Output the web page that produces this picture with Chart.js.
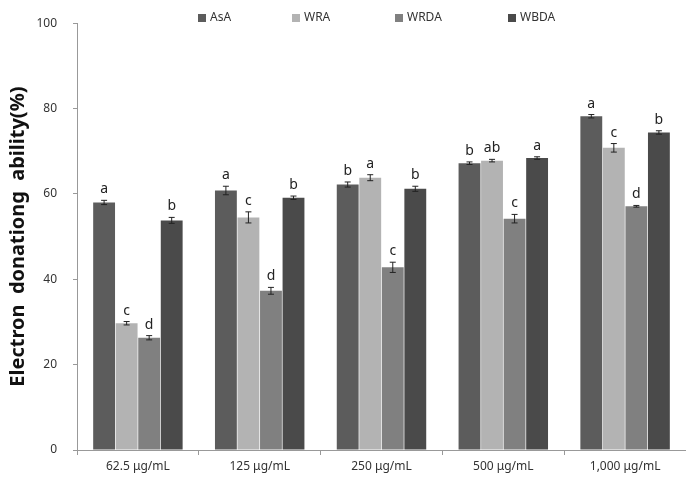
<!DOCTYPE html>
<html>
<head>
<meta charset="utf-8">
<script src="https://cdn.jsdelivr.net/npm/chart.js@4"></script>
<style>
  html, body { margin: 0; padding: 0; background: #fff; }
  #wrap { width: 686px; height: 478px; position: relative; }
</style>
</head>
<body>
<div id="wrap"><canvas id="edaChart" width="686" height="478"></canvas></div>
<script>
/* Electron donating ability bar chart */
const categories = ['62.5 \u03bcg/mL', '125 \u03bcg/mL', '250 \u03bcg/mL', '500 \u03bcg/mL', '1,000 \u03bcg/mL'];
const seriesNames = ['AsA', 'WRA', 'WRDA', 'WBDA'];
const seriesColors = ['#5c5c5c', '#b3b3b3', '#808080', '#4a4a4a'];

const asaValues  = [58.0, 60.8, 62.2, 67.2, 78.2];
const wraValues  = [29.7, 54.5, 63.8, 67.8, 70.8];
const wrdaValues = [26.3, 37.3, 42.8, 54.2, 57.1];
const wbdaValues = [53.8, 59.1, 61.2, 68.4, 74.4];

const asaErr  = [0.5, 1.0, 0.6, 0.3, 0.4];
const wraErr  = [0.4, 1.3, 0.7, 0.3, 1.0];
const wrdaErr = [0.5, 0.8, 1.2, 1.0, 0.2];
const wbdaErr = [0.7, 0.4, 0.6, 0.3, 0.4];

const asaLetters  = ['a', 'a', 'b', 'b', 'a'];
const wraLetters  = ['c', 'c', 'a', 'ab', 'c'];
const wrdaLetters = ['d', 'd', 'c', 'c', 'd'];
const wbdaLetters = ['b', 'b', 'b', 'a', 'b'];

const yTicks = [0, 20, 40, 60, 80, 100];

const values = [asaValues, wraValues, wrdaValues, wbdaValues];
const errors = [asaErr, wraErr, wrdaErr, wbdaErr];
const letters = [asaLetters, wraLetters, wrdaLetters, wbdaLetters];

const FONT = "'Noto Sans', 'DejaVu Sans', sans-serif";

// error bars + significance letters
const annotate = {
  id: 'annotate',
  afterDatasetsDraw(chart) {
    const ctx = chart.ctx;
    const y = chart.scales.y;
    ctx.save();
    chart.data.datasets.forEach((ds, di) => {
      const meta = chart.getDatasetMeta(di);
      meta.data.forEach((bar, i) => {
        const v = ds.data[i], e = errors[di][i];
        const top = y.getPixelForValue(v + e);
        const bot = y.getPixelForValue(v - e);
        ctx.strokeStyle = '#222';
        ctx.lineWidth = 1;
        ctx.beginPath();
        ctx.moveTo(bar.x, top); ctx.lineTo(bar.x, bot);
        ctx.moveTo(bar.x - 3, top); ctx.lineTo(bar.x + 3, top);
        ctx.moveTo(bar.x - 3, bot); ctx.lineTo(bar.x + 3, bot);
        ctx.stroke();
        ctx.fillStyle = '#222';
        ctx.font = '14px ' + FONT;
        ctx.textAlign = 'center';
        ctx.textBaseline = 'bottom';
        ctx.fillText(letters[di][i], bar.x, top - 4);
      });
    });
    ctx.restore();
  }
};

// legend drawn inside the plot area, like the original
const topLegend = {
  id: 'topLegend',
  afterDraw(chart) {
    const ctx = chart.ctx;
    const xs = [198, 292, 395, 508];
    ctx.save();
    ctx.font = '12px ' + FONT;
    ctx.textBaseline = 'middle';
    ctx.textAlign = 'left';
    chart.data.datasets.forEach((ds, i) => {
      ctx.fillStyle = ds.backgroundColor;
      ctx.fillRect(xs[i], 14, 8, 8);
      ctx.fillStyle = '#333';
      ctx.fillText(ds.label, xs[i] + 12, 18);
    });
    ctx.restore();
  }
};

new Chart(document.getElementById('edaChart'), {
  type: 'bar',
  data: {
    labels: categories,
    datasets: seriesNames.map((name, i) => ({
      label: name,
      data: values[i],
      backgroundColor: seriesColors[i],
      borderWidth: 0,
      categoryPercentage: 0.74,
      barPercentage: 0.97
    }))
  },
  options: {
    responsive: false,
    animation: false,
    layout: { padding: { top: 17, right: 0, left: 0, bottom: 0 } },
    plugins: {
      legend: { display: false },
      tooltip: { enabled: false }
    },
    scales: {
      x: {
        offset: true,
        grid: { display: true, drawOnChartArea: false, offset: true, tickLength: 5, color: '#999' },
        border: { color: '#999' },
        ticks: { color: '#333', font: { family: FONT, size: 12 }, padding: 4, maxRotation: 0 },
        afterFit(s) { s.height = 28; }
      },
      y: {
        min: 0, max: 100,
        afterBuildTicks(s) { s.ticks = yTicks.map(v => ({ value: v })); },
        grid: { display: true, drawOnChartArea: false, tickLength: 4, color: '#999' },
        border: { color: '#999' },
        ticks: { color: '#333', font: { family: FONT, size: 12 }, padding: 16 },
        title: {
          display: true,
          text: 'Electron  donationg  ability(%)',
          color: '#111',
          font: { family: FONT, size: 20, weight: 'bold' },
          padding: { top: 6, bottom: 0 }
        },
        afterFit(s) { s.width = 77; }
      }
    }
  },
  plugins: [annotate, topLegend]
});
</script>
</body>
</html>
